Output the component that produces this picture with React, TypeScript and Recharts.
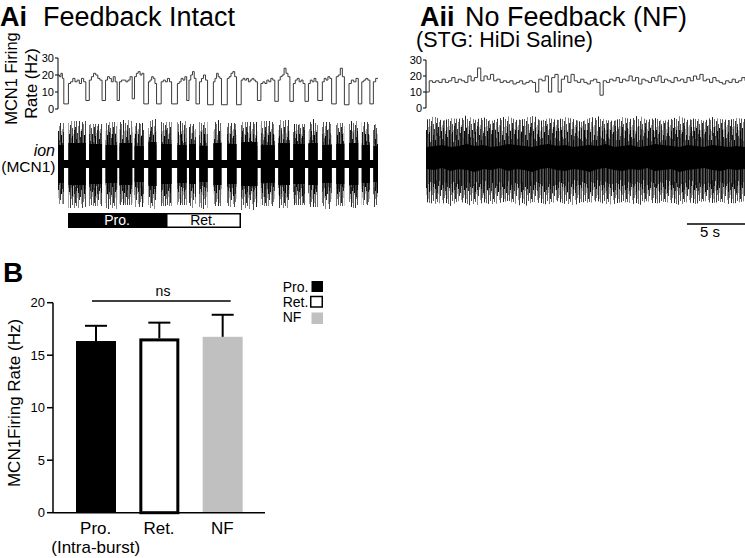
import React from 'react';
import { LineChart, Line, XAxis, YAxis, AreaChart, Area, BarChart, Bar } from 'recharts';

const FONT = '"Liberation Sans", Arial, Helvetica, sans-serif';

// ---------- Ai: feedback intact, MCN1 firing rate (Hz) ----------
const aiTraceEnd = 27.6; // s
const aiDipStart = [0.5, 2.4, 3.8, 5.1, 6.4, 7.4, 8.5, 9.8, 11.1, 11.9, 12.9, 14.1, 15.4, 17.2, 18.7, 20.0, 21.3, 22.4, 23.6, 24.7, 25.9, 26.9];
const aiDipEnd = [0.9, 2.7, 4.1, 5.3, 6.6, 7.8, 8.9, 10.3, 11.3, 12.2, 13.4, 14.6, 15.8, 17.5, 19.0, 20.3, 21.6, 22.8, 24.0, 25.1, 26.2, 27.2];
const aiDipRate = [3, 5, 5, 5, 6, 3, 3, 3, 5, 3, 2.5, 2.5, 2.5, 5, 4.5, 4.5, 4.5, 5, 3, 2.5, 3, 3];
const aiBurstRates = [
  [20, 19, 21, 18],
  [15, 16, 18, 16, 17, 15, 18, 16],
  [17, 19, 21, 20, 18, 17],
  [17, 19, 18, 16, 19, 16],
  [16, 17, 17, 16, 17, 19],
  [19, 21, 22, 20, 21],
  [16, 17, 19, 18, 15],
  [16, 17, 16, 18, 16],
  [15, 16, 18, 17, 19],
  [17, 20, 22, 18],
  [16, 18, 20, 17],
  [16, 18, 21, 19, 18],
  [18, 19, 21, 22, 19],
  [17, 18, 17, 18, 16, 17, 18, 17, 16],
  [15, 16, 15, 17, 16, 18, 17],
  [17, 19, 20, 24, 21, 19],
  [15, 17, 18, 16, 17, 15],
  [15, 17, 16, 18, 16],
  [16, 18, 17, 19, 18],
  [19, 20, 24, 19],
  [15, 17, 16, 18],
  [16, 17, 18, 17],
  [16, 18],
];
// Ai extracellular ion recording envelope per burst (arbitrary units)
const aiIonTop = [41, 43, 40, 42, 44, 41, 45, 42, 43, 40, 42, 44, 41, 42, 43, 44, 40, 45, 42, 41, 43, 42, 40];
const aiIonBottom = [-40, -44, -42, -45, -41, -43, -46, -42, -41, -44, -45, -42, -43, -46, -42, -44, -41, -43, -45, -42, -44, -41, -43];
const aiIonCore = [19, 21, 20, 19, 21, 18, 22, 20, 19, 20, 18, 21, 20, 22, 19, 21, 20, 21, 19, 20, 21, 19, 18];
const aiIonQuiet = 4;

// ---------- Aii: no feedback ----------
const aiiRate = [
  10, 17, 16, 17, 16, 18, 16, 17, 19, 16,
  18, 17, 16, 20, 17, 19, 25, 17, 20, 18,
  21, 17, 18, 16, 17, 16, 17, 15, 16, 17,
  15, 16, 17, 16, 10, 18, 17, 20, 10, 19,
  21, 10, 18, 20, 16, 21, 17, 16, 18, 16,
  15, 17, 18, 16, 8, 17, 16, 18, 17, 19,
  16, 18, 17, 20, 17, 19, 15, 18, 17, 16,
  19, 17, 20, 16, 18, 17, 16, 19, 17, 18,
  16, 19, 17, 20, 18, 21, 17, 18, 16, 19,
  17, 16, 15, 17, 16, 18, 16, 17, 19, 17,
];
const aiiIonTop = [40, 44, 39, 42, 41, 45, 40, 43, 39, 42, 44, 40, 41, 46, 39, 42, 40, 43, 41, 38, 42, 44, 40, 39, 43, 41, 45, 40, 42, 39, 41, 44, 40, 42, 39, 43, 41, 40, 42, 41];
const aiiIonBottom = [-42, -44, -43, -46, -41, -44, -48, -42, -45, -43, -41, -44, -47, -42, -43, -45, -41, -44, -46, -42, -43, -41, -45, -44, -42, -43, -46, -41, -44, -42, -43, -45, -42, -44, -41, -43, -42, -44, -43, -41];
const aiiIonCoreTop = [13, 14, 15, 13, 14, 16, 14, 15, 13, 14, 16, 15, 14, 13, 15, 16, 14, 15, 13, 14, 15, 14, 16, 13, 14, 15, 13, 14, 16, 15, 14, 13, 15, 14, 13, 15, 14, 13, 14, 13];
const aiiIonCoreBottom = [-9, -10, -8, -11, -9, -10, -12, -9, -10, -8, -11, -9, -10, -12, -9, -8, -10, -11, -9, -10, -12, -9, -8, -10, -11, -9, -10, -8, -11, -10, -9, -12, -10, -9, -8, -10, -11, -9, -10, -9];

// ---------- B: bar chart ----------
const groups = ['Pro.', 'Ret.', 'NF'];
const groupSub = ['(Intra-burst)', '', ''];
const meanRate = [16.35, 16.6, 16.75];
const semRate = [1.45, 1.5, 2.1];
const barTicks = [0, 5, 10, 15, 20];
const rateTicks = [0, 10, 20, 30];

// ---------- tables built from the arrays ----------
function burstBounds(i: number) {
  const start = i === 0 ? 0 : aiDipEnd[i - 1];
  const end = i < aiDipStart.length ? aiDipStart[i] : aiTraceEnd;
  return [start, end];
}

const aiRateData: { t: number; r: number }[] = [];
aiBurstRates.forEach((lv, i) => {
  const [s, e] = burstBounds(i);
  lv.forEach((v, k) => aiRateData.push({ t: s + ((e - s) * k) / lv.length, r: v }));
  if (i < aiDipStart.length) aiRateData.push({ t: aiDipStart[i], r: aiDipRate[i] });
  else aiRateData.push({ t: aiTraceEnd, r: lv[lv.length - 1] });
});

const aiIonData: any[] = [];
aiBurstRates.forEach((_, i) => {
  const [s] = burstBounds(i);
  aiIonData.push({ t: s, outer: [aiIonBottom[i], aiIonTop[i]], core: [-aiIonCore[i], aiIonCore[i]] });
  if (i < aiDipStart.length) {
    aiIonData.push({ t: aiDipStart[i], outer: [-aiIonQuiet, aiIonQuiet], core: [-aiIonQuiet, aiIonQuiet] });
  } else {
    aiIonData.push({ t: aiTraceEnd, outer: [aiIonBottom[i], aiIonTop[i]], core: [-aiIonCore[i], aiIonCore[i]] });
  }
});

const aiiRateData = aiiRate.map((r, i) => ({ t: i, r }));
const aiiIonData = aiiIonTop.map((top, i) => ({
  t: i,
  outer: [aiiIonBottom[i], top],
  core: [aiiIonCoreBottom[i], aiiIonCoreTop[i]],
}));

const barData = groups.map((name, i) => ({ name, mean: meanRate[i], sem: semRate[i], sub: groupSub[i] }));
const barFills = ['#000000', '#ffffff', '#c0c0c0'];

// ---------- texture (style only): stripes [up, down, shade] in px ----------
const lightStripes: [number, number, string][] = [
  [44, 42, '#555'], [31, 34, '#bbb'], [38, 45, '#888'], [46, 36, '#333'], [33, 30, '#c4c4c4'], [35, 40, '#999'],
  [42, 47, '#444'], [40, 38, '#777'], [29, 35, '#b0b0b0'], [47, 43, '#222'], [33, 39, '#aaa'], [41, 44, '#666'],
  [34, 31, '#c0c0c0'], [39, 46, '#3a3a3a'], [44, 35, '#8a8a8a'], [36, 41, '#505050'], [30, 33, '#b8b8b8'],
  [43, 44, '#777'], [37, 39, '#2a2a2a'],
];
const darkStripes: [number, number, string][] = [
  [30, 28, '#111'], [22, 26, '#333'], [26, 24, '#5a5a5a'], [28, 32, '#000'], [18, 22, '#444'], [34, 30, '#222'],
  [20, 23, '#606060'], [25, 27, '#111'], [31, 24, '#3a3a3a'], [20, 29, '#000'], [24, 20, '#585858'],
  [27, 33, '#222'], [33, 26, '#111'], [24, 21, '#444'], [22, 25, '#5c5c5c'], [29, 30, '#000'], [21, 25, '#2a2a2a'],
  [32, 28, '#111'], [19, 22, '#555'], [26, 31, '#333'], [30, 23, '#000'], [23, 27, '#222'], [21, 24, '#5a5a5a'],
];

const Texture = ({ id, cy, h }: { id: string; cy: number; h: number }) => (
  <defs>
    <pattern id={id + 'L'} x="0" y="0" width={lightStripes.length} height={h} patternUnits="userSpaceOnUse">
      {lightStripes.map((s, k) => <rect key={k} x={k} y={cy - s[0]} width={1} height={s[0] + s[1]} fill={s[2]} />)}
    </pattern>
    <pattern id={id + 'D'} x="0" y="0" width={darkStripes.length} height={h} patternUnits="userSpaceOnUse">
      {darkStripes.map((s, k) => <rect key={k} x={k} y={cy - s[0]} width={1} height={s[0] + s[1]} fill={s[2]} />)}
    </pattern>
  </defs>
);

const BarShape = (p: any) => {
  const { x, y, width, height, payload } = p;
  const i = groups.indexOf(payload.name);
  const pxPerUnit = height / payload.mean;
  const cx = x + width / 2;
  const yTop = y - payload.sem * pxPerUnit;
  return (
    <g>
      {i === 1 ? (
        <rect x={x + 1.5} y={y + 1.5} width={width - 3} height={height - 1.5} fill="#fff" stroke="#000" strokeWidth={3} />
      ) : (
        <rect x={x} y={y} width={width} height={height} fill={barFills[i]} />
      )}
      <line x1={cx} y1={y} x2={cx} y2={yTop} stroke="#000" strokeWidth={2} />
      <line x1={cx - 11} y1={yTop} x2={cx + 11} y2={yTop} stroke="#000" strokeWidth={2} />
    </g>
  );
};

const XTick = (p: any) => {
  const { x, y, payload } = p;
  const i = groups.indexOf(payload.value);
  return (
    <g>
      <text x={x} y={y + 21.3} textAnchor="middle" fontSize={17} fontFamily={FONT} fill="#000">{groups[i]}</text>
      {groupSub[i] ? (
        <text x={x} y={y + 40.3} textAnchor="middle" fontSize={17} fontFamily={FONT} fill="#000">{groupSub[i]}</text>
      ) : null}
    </g>
  );
};

const abs = (left: number, top: number): React.CSSProperties => ({ position: 'absolute', left, top });

export default function App() {
  return (
    <div style={{ position: 'absolute', left: 0, top: 0, width: 745, height: 558, background: '#fff', overflow: 'hidden', fontFamily: FONT }}>
      {/* Ai firing rate */}
      <div style={abs(0, 50)}>
        <LineChart width={380} height={68} data={aiRateData} margin={{ top: 8, right: 2, bottom: 9, left: 18 }}>
          <XAxis dataKey="t" type="number" domain={[0, aiTraceEnd]} hide />
          <YAxis width={40} domain={[0, 30]} ticks={rateTicks} interval={0} tickSize={3} tickMargin={1}
            tick={{ fontSize: 11, fill: '#000', fontFamily: FONT }} axisLine={{ stroke: '#000' }} tickLine={{ stroke: '#000' }} />
          <Line type="stepAfter" dataKey="r" stroke="#3a3a3a" strokeWidth={1} dot={false} isAnimationActive={false} />
        </LineChart>
      </div>
      {/* Ai ion trace */}
      <div style={abs(0, 110)}>
        <AreaChart width={380} height={112} data={aiIonData} margin={{ top: 4, right: 2, bottom: 3, left: 58 }}>
          <Texture id="texAi" cy={54} h={112} />
          <XAxis dataKey="t" type="number" domain={[0, aiTraceEnd]} hide />
          <YAxis domain={[-55, 50]} hide />
          <Area type="stepAfter" dataKey="outer" stroke="none" fill="url(#texAiL)" fillOpacity={1} isAnimationActive={false} />
          <Area type="stepAfter" dataKey="outer" stroke="none" fill="url(#texAiD)" fillOpacity={1} isAnimationActive={false} />
          <Area type="stepAfter" dataKey="core" stroke="none" fill="#000" fillOpacity={1} isAnimationActive={false} />
        </AreaChart>
      </div>
      {/* Aii firing rate */}
      <div style={abs(380, 50)}>
        <LineChart width={365} height={68} data={aiiRateData} margin={{ top: 10, right: 0, bottom: 10, left: 6 }}>
          <XAxis dataKey="t" type="number" domain={[0, aiiRate.length - 1]} hide />
          <YAxis width={40} domain={[0, 30]} ticks={rateTicks} interval={0} tickSize={3} tickMargin={1}
            tick={{ fontSize: 11, fill: '#000', fontFamily: FONT }} axisLine={{ stroke: '#000' }} tickLine={{ stroke: '#000' }} />
          <Line type="stepAfter" dataKey="r" stroke="#3a3a3a" strokeWidth={1} dot={false} isAnimationActive={false} />
        </LineChart>
      </div>
      {/* Aii ion trace */}
      <div style={abs(380, 105)}>
        <AreaChart width={365} height={118} data={aiiIonData} margin={{ top: 5, right: 0, bottom: 3, left: 46 }}>
          <Texture id="texAii" cy={55} h={118} />
          <XAxis dataKey="t" type="number" domain={[0, aiiIonTop.length - 1]} hide />
          <YAxis domain={[-60, 50]} hide />
          <Area type="linear" dataKey="outer" stroke="none" fill="url(#texAiiL)" fillOpacity={1} isAnimationActive={false} />
          <Area type="linear" dataKey="outer" stroke="none" fill="url(#texAiiD)" fillOpacity={1} isAnimationActive={false} />
          <Area type="linear" dataKey="core" stroke="none" fill="#000" fillOpacity={1} isAnimationActive={false} />
        </AreaChart>
      </div>
      {/* B bar chart */}
      <div style={abs(0, 240)}>
        <BarChart width={300} height={318} data={barData} margin={{ top: 62.7, right: 35, bottom: 0, left: 13 }} barSize={40}>
          <XAxis dataKey="name" height={45.3} padding={{ left: 11, right: 11 }} tickLine={false} tickSize={0} tickMargin={0}
            axisLine={{ stroke: '#000', strokeWidth: 1.5 }} tick={<XTick />} interval={0} />
          <YAxis width={40} domain={[0, 20]} ticks={barTicks} interval={0} tickSize={6} tickMargin={2}
            tick={{ fontSize: 13, fill: '#000', fontFamily: FONT }} axisLine={{ stroke: '#000', strokeWidth: 1.5 }}
            tickLine={{ stroke: '#000', strokeWidth: 1.5 }} />
          <Bar dataKey="mean" shape={<BarShape />} isAnimationActive={false} />
        </BarChart>
      </div>
      {/* annotations */}
      <svg width={745} height={558} style={{ position: 'absolute', left: 0, top: 0, pointerEvents: 'none' }} fontFamily={FONT}>
        <text x={0} y={26} fontSize={27} fontWeight="bold">Ai</text>
        <text x={43} y={26} fontSize={27}>Feedback Intact</text>
        <text x={420} y={26} fontSize={27} fontWeight="bold">Aii</text>
        <text x={465} y={26} fontSize={27}>No Feedback (NF)</text>
        <text x={416} y={47} fontSize={21.5}>(STG: HiDi Saline)</text>
        <text x={16.5} y={78.5} fontSize={16.5} textAnchor="middle" transform="rotate(-90 16.5 78.5)">MCN1 Firing</text>
        <text x={37} y={83.5} fontSize={16.5} textAnchor="middle" transform="rotate(-90 37 83.5)">Rate (Hz)</text>
        <text x={55} y={156} fontSize={16} textAnchor="end" fontStyle="italic">ion</text>
        <text x={55.5} y={171.5} fontSize={15.5} textAnchor="end">(MCN1)</text>
        <rect x={68} y={213} width={98} height={15} fill="#000" />
        <rect x={166.75} y={213.75} width={73.5} height={13.5} fill="#fff" stroke="#000" strokeWidth={1.5} />
        <text x={117} y={225} fontSize={14} textAnchor="middle" fill="#fff">Pro.</text>
        <text x={203} y={225} fontSize={14} textAnchor="middle">Ret.</text>
        <line x1={687} y1={224} x2={745} y2={224} stroke="#000" strokeWidth={1.5} />
        <text x={710} y={237} fontSize={15} textAnchor="middle">5 s</text>
        <text x={3} y={282} fontSize={28} fontWeight="bold">B</text>
        <line x1={92} y1={301} x2={230.7} y2={301} stroke="#000" strokeWidth={1.3} />
        <text x={163} y={296} fontSize={14} textAnchor="middle">ns</text>
        <text x={20} y={403} fontSize={17} textAnchor="middle" transform="rotate(-90 20 403)">MCN1Firing Rate (Hz)</text>
        <text x={282.7} y={291.5} fontSize={14}>Pro.</text>
        <rect x={311.5} y={281} width={11.5} height={11} fill="#000" />
        <text x={282.7} y={306.5} fontSize={14}>Ret.</text>
        <rect x={310.75} y={296.5} width={11.5} height={10.5} fill="#fff" stroke="#000" strokeWidth={1.5} />
        <text x={282.7} y={322} fontSize={14}>NF</text>
        <rect x={311.5} y={312.5} width={11.5} height={11.5} fill="#c0c0c0" />
      </svg>
    </div>
  );
}
